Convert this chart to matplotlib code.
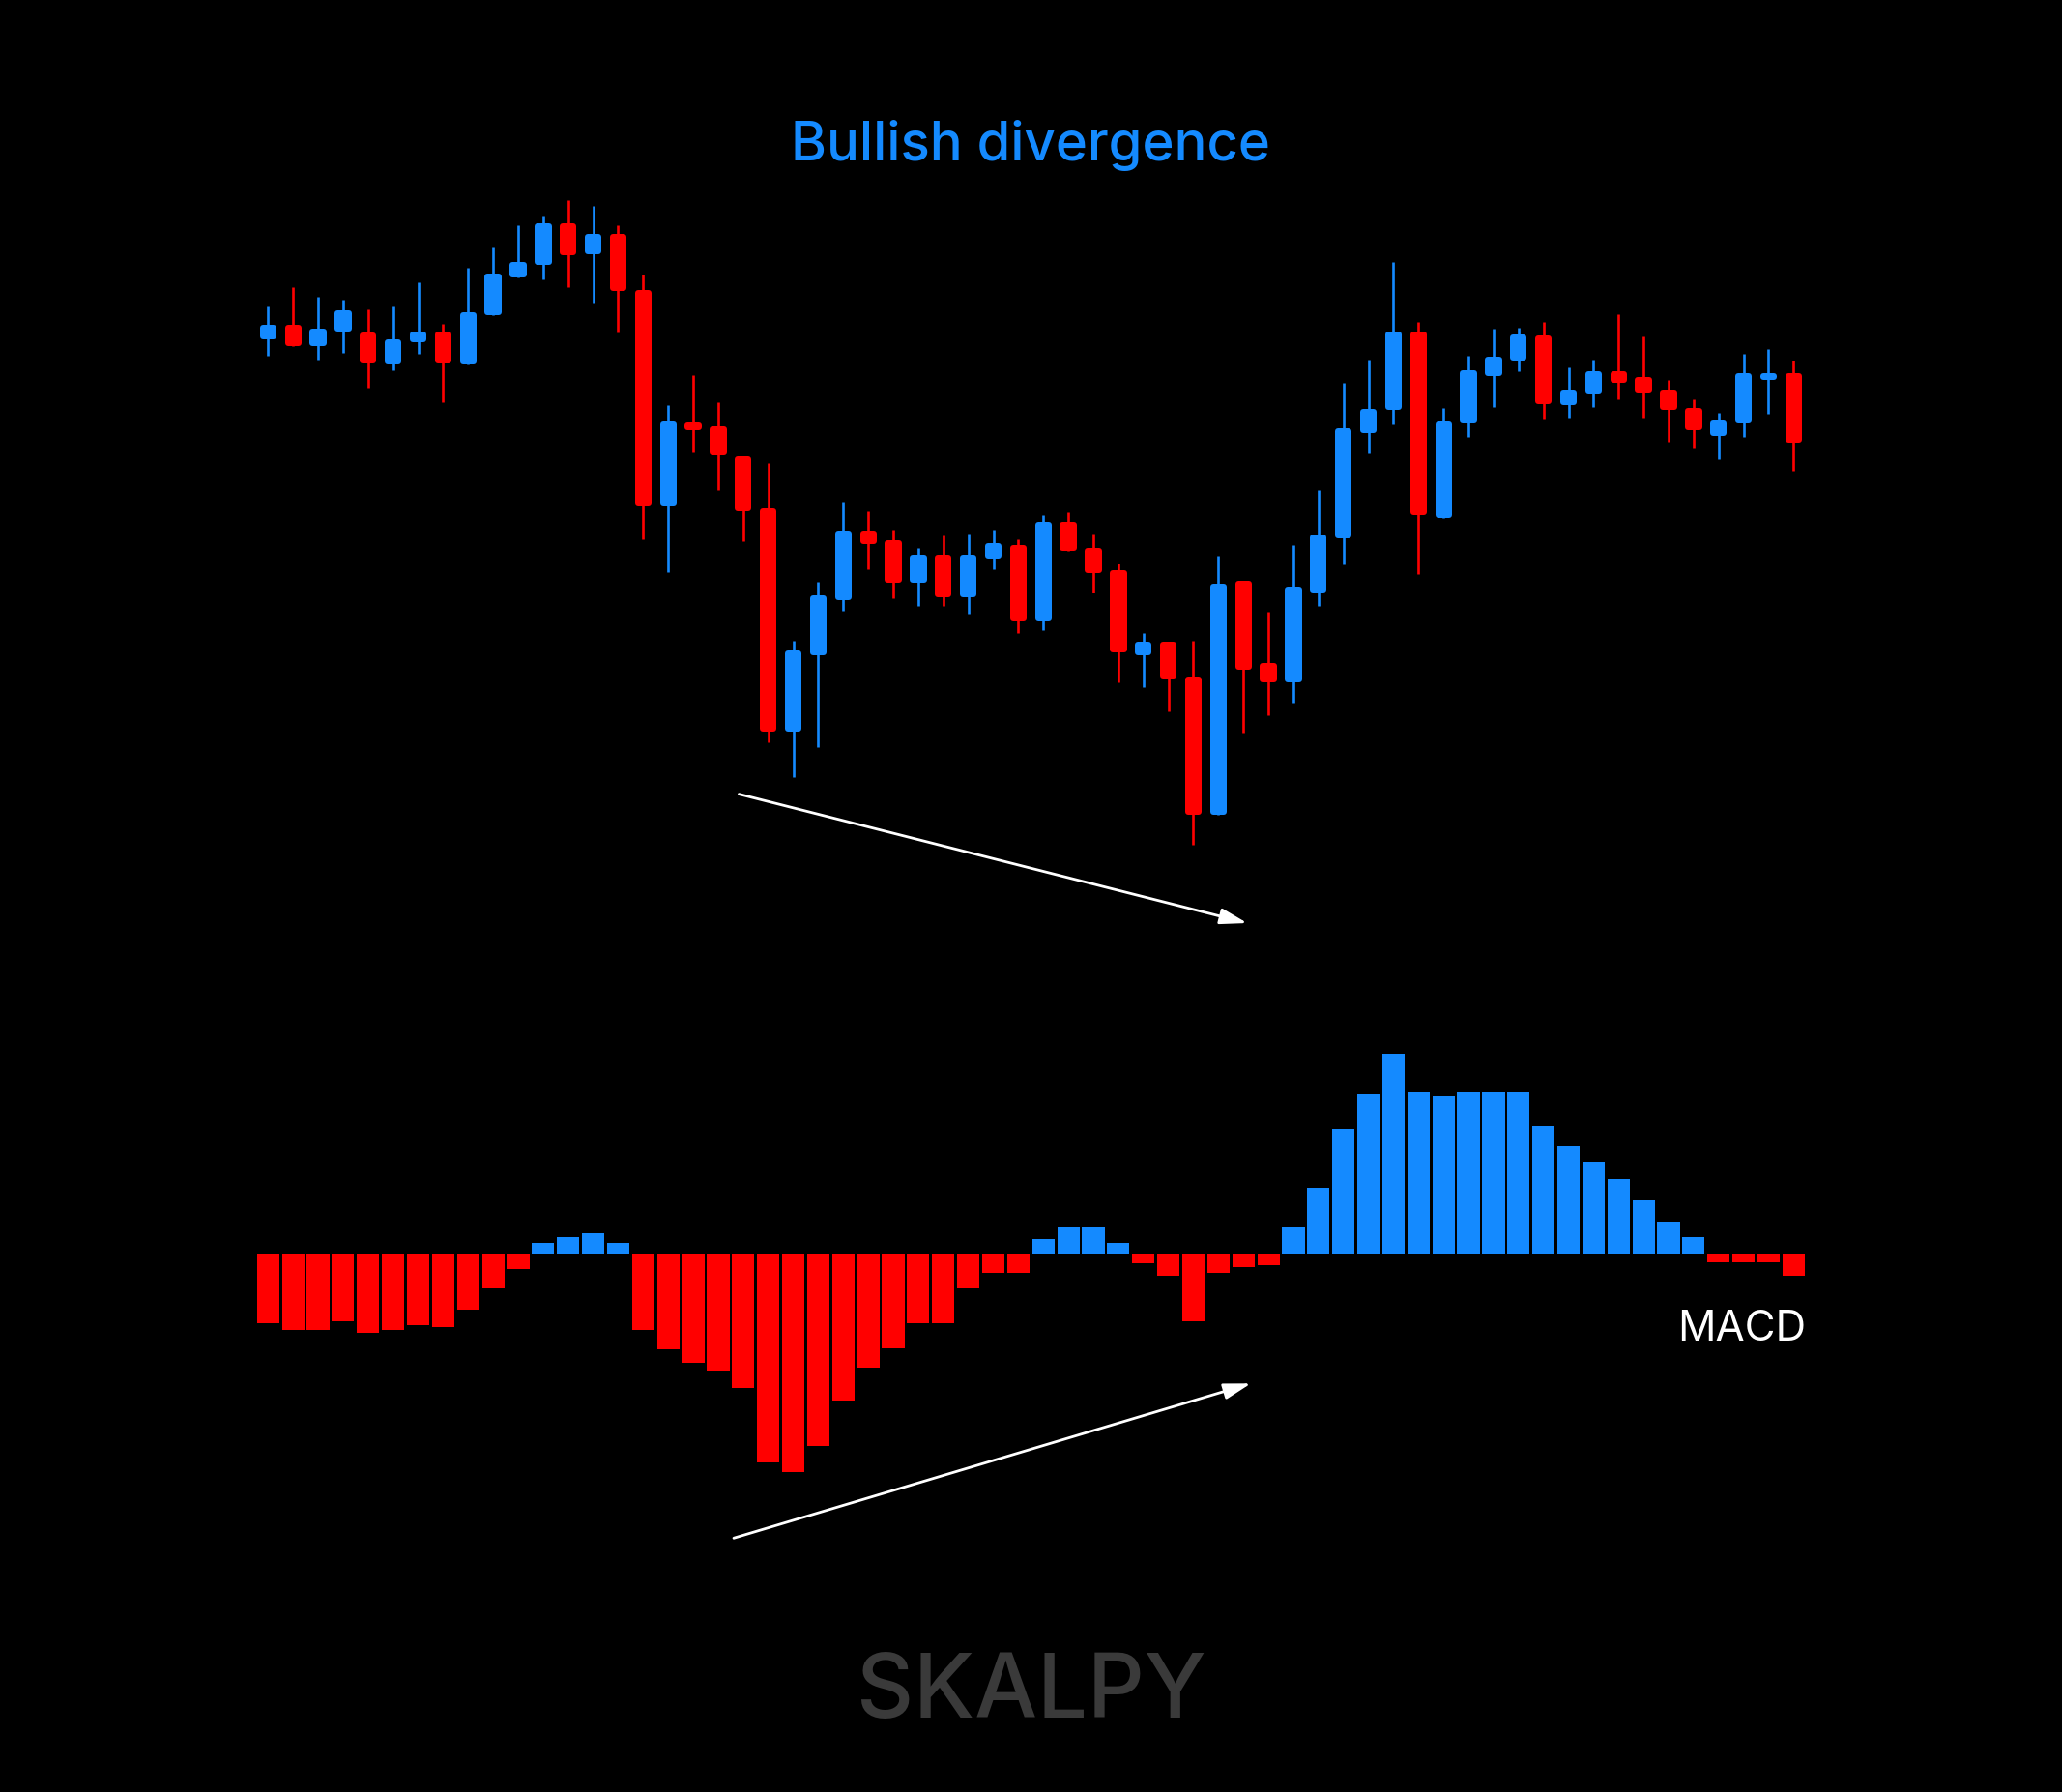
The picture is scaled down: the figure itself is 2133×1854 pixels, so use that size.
import matplotlib
matplotlib.use("Agg")
import matplotlib.pyplot as plt
import numpy as np

# ---------------- data ----------------
opens  = [64.9, 66.4, 64.2, 65.7, 65.6, 62.3, 64.6, 65.7, 62.3, 67.4,
          71.3, 72.6, 76.9, 73.7, 75.8, 70.0, 47.7, 56.3, 55.9, 52.8,
          47.4, 24.3, 32.2, 37.9, 45.1, 44.1, 39.7, 42.6, 38.2, 42.2,
          43.6, 35.8, 46.0, 43.3, 41.0, 32.2, 33.6, 30.0, 15.7, 39.9,
          31.4, 29.4, 38.7, 44.3, 55.2, 57.6, 65.7, 46.4, 56.2, 61.1,
          62.7, 65.3, 58.1, 59.2, 61.6, 61.0, 59.6, 57.8, 54.9, 56.2,
          60.7, 61.4]
highs  = [68.3, 70.3, 69.3, 69.0, 68.0, 68.3, 70.8, 66.5, 72.3, 74.4,
          76.7, 77.7, 79.3, 78.7, 76.7, 71.6, 58.1, 61.2, 58.4, 52.8,
          52.1, 33.7, 39.8, 48.1, 47.1, 45.2, 43.3, 44.6, 44.8, 45.2,
          44.2, 46.7, 47.0, 44.8, 41.7, 34.5, 33.6, 33.7, 42.5, 39.9,
          36.7, 43.6, 49.3, 60.4, 62.8, 72.9, 66.7, 57.8, 63.2, 66.0,
          66.1, 66.7, 62.0, 62.8, 67.5, 65.2, 60.7, 58.7, 57.3, 63.4,
          63.9, 62.7]
lows   = [63.2, 64.2, 62.8, 63.5, 59.9, 61.7, 63.4, 58.4, 62.3, 67.4,
          71.3, 71.1, 70.3, 68.6, 65.6, 44.2, 40.8, 53.2, 49.3, 44.0,
          23.2, 19.6, 22.7, 36.8, 41.1, 38.1, 37.3, 37.3, 36.5, 41.1,
          34.5, 34.8, 43.0, 38.7, 29.4, 28.9, 26.4, 12.6, 15.7, 24.2,
          26.0, 27.3, 37.3, 41.6, 53.1, 56.1, 40.6, 46.4, 54.8, 57.9,
          61.6, 56.6, 56.8, 57.9, 58.7, 56.8, 54.3, 53.6, 52.5, 54.8,
          57.2, 51.3]
closes = [66.4, 64.2, 66.0, 67.9, 62.4, 64.9, 65.7, 62.4, 67.7, 71.7,
          72.9, 76.9, 73.6, 75.8, 69.9, 47.7, 56.4, 55.5, 52.9, 47.1,
          24.3, 32.7, 38.4, 45.1, 43.7, 39.7, 42.6, 38.2, 42.6, 43.8,
          35.8, 46.0, 43.0, 40.7, 32.5, 33.6, 29.8, 15.7, 39.6, 30.7,
          29.4, 39.3, 44.7, 55.7, 57.7, 65.7, 46.7, 56.4, 61.7, 63.1,
          65.4, 58.2, 59.6, 61.6, 60.4, 59.3, 57.6, 55.5, 56.5, 61.4,
          61.4, 54.2]
macd_hist = [-0.72, -0.79, -0.79, -0.70, -0.82, -0.79, -0.74, -0.76, -0.58, -0.36,
             -0.16, 0.11, 0.17, 0.21, 0.11, -0.79, -0.99, -1.13, -1.21, -1.39,
             -2.16, -2.26, -1.99, -1.52, -1.18, -0.98, -0.72, -0.72, -0.36, -0.20,
             -0.20, 0.15, 0.28, 0.28, 0.11, -0.10, -0.23, -0.70, -0.20, -0.14,
             -0.12, 0.28, 0.68, 1.29, 1.65, 2.07, 1.67, 1.63, 1.67, 1.67,
             1.67, 1.32, 1.11, 0.95, 0.77, 0.55, 0.33, 0.17, -0.09, -0.09,
             -0.09, -0.23]

title_text = "Bullish divergence"
macd_text = "MACD"
brand_text = "SKALPY"

# divergence arrows (start, end) in data units
price_arrow_start = (18.83, 17.84)
price_arrow_end = (39.15, 4.5)
macd_arrow_start = (18.62, -2.94)
macd_arrow_end = (39.3, -1.34)

# ---------------- style ----------------
BLUE = "#148AFF"
RED = "#FF0000"
W, H, DPI = 2133, 1854, 100

fig = plt.figure(figsize=(W / DPI, H / DPI), dpi=DPI, facecolor="black")

x0_px, step_px = 277.3, 25.87
xlim = (-x0_px / step_px, (W - x0_px) / step_px)


def px_axes(top, bottom):
    a = fig.add_axes([0, 1 - bottom / H, 1, (bottom - top) / H])
    a.set_facecolor("none")
    a.set_xlim(*xlim)
    a.axis("off")
    return a


# price panel: pixel rows 100..1000, 90 units -> 10 px / unit
ax = px_axes(100, 1000)
ax.set_ylim(0, 90)
px_per_unit = 10.0

n = len(opens)
x = np.arange(n)
o = np.array(opens)
c = np.array(closes)
hi = np.array(highs)
lo = np.array(lows)
cols = np.where(c >= o, BLUE, RED)

ax.vlines(x, lo, hi, colors=cols, linewidth=1.9, zorder=1)

body_px, edge_px = 17.3, 6.0
ax.bar(x, np.abs(c - o) - edge_px / px_per_unit,
       width=(body_px - edge_px) / step_px,
       bottom=np.minimum(o, c) + edge_px / 2 / px_per_unit,
       color=cols, edgecolor=cols, linewidth=edge_px * 72 / DPI,
       joinstyle="round", zorder=2)

arrow_props = dict(arrowstyle="-|>,head_length=1.7,head_width=0.5",
                   color="white", lw=2.0, mutation_scale=10,
                   shrinkA=0, shrinkB=0)
ax.annotate("", xy=price_arrow_end, xytext=price_arrow_start,
            arrowprops=arrow_props, annotation_clip=False)

# MACD panel: pixel rows 1000..1650, 100 px / unit, zero at 1297.3
ax2 = px_axes(1000, 1650)
ax2.set_ylim((1297.3 - 1650) / 100, (1297.3 - 1000) / 100)
hvals = np.array(macd_hist)
ax2.bar(x, hvals, width=0.895, color=np.where(hvals >= 0, BLUE, RED),
        linewidth=0)
ax2.annotate("", xy=macd_arrow_end, xytext=macd_arrow_start,
             arrowprops=arrow_props, annotation_clip=False)

# texts
fig.text(1066 / W, 1 - 166 / H, title_text, color=BLUE, fontsize=40.5,
         fontweight="medium",
         family=["Inter", "DejaVu Sans"], ha="center", va="baseline")
fig.text(1868 / W, 1 - 1387 / H, macd_text, color="white", fontsize=31.5,
         family=["Inter", "DejaVu Sans"], ha="right", va="baseline")
fig.text(1066.5 / W, 1 - 1777 / H, brand_text, color="#3a3a3a", fontsize=66,
         fontweight="medium",
         family=["Inter", "DejaVu Sans"], ha="center", va="baseline")

fig.savefig("out.png", dpi=DPI, facecolor="black")
